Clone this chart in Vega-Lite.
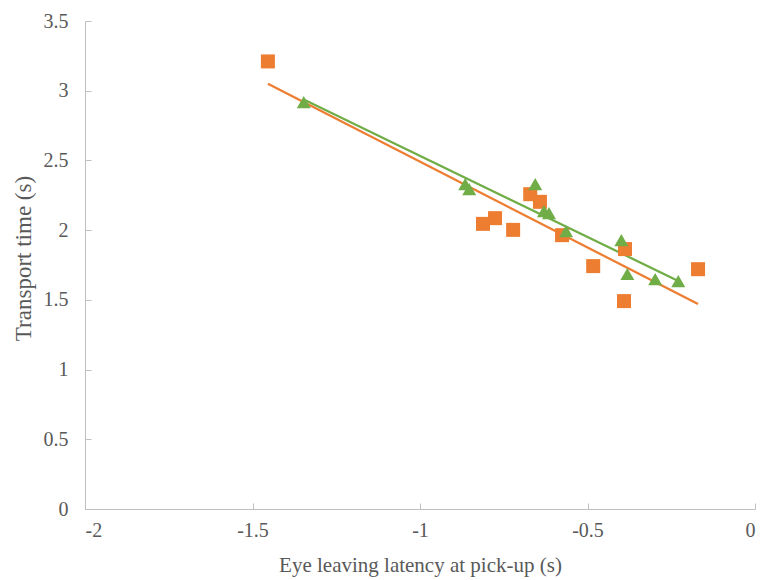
{
  "$schema": "https://vega.github.io/schema/vega-lite/v6.json",
  "width": 670,
  "height": 488,
  "autosize": {"type": "none"},
  "padding": {"left": 85, "top": 21, "right": 6, "bottom": 71},
  "background": "white",
  "config": {
    "view": {"stroke": null},
    "style": {
      "guide-label": {"font": "Liberation Serif", "fontSize": 20, "fill": "#595959"},
      "guide-title": {"font": "Liberation Serif", "fontSize": 21, "fill": "#595959", "fontWeight": "normal"}
    }
  },
  "data": {
    "values": [
      {"x": -1.454, "y": 3.21, "series": "A"},
      {"x": -0.812, "y": 2.045, "series": "A"},
      {"x": -0.776, "y": 2.086, "series": "A"},
      {"x": -0.722, "y": 2.002, "series": "A"},
      {"x": -0.671, "y": 2.258, "series": "A"},
      {"x": -0.642, "y": 2.203, "series": "A"},
      {"x": -0.576, "y": 1.964, "series": "A"},
      {"x": -0.483, "y": 1.742, "series": "A"},
      {"x": -0.388, "y": 1.864, "series": "A"},
      {"x": -0.391, "y": 1.491, "series": "A"},
      {"x": -0.170, "y": 1.72, "series": "A"},
      {"x": -1.347, "y": 2.918, "series": "B"},
      {"x": -0.865, "y": 2.33, "series": "B"},
      {"x": -0.853, "y": 2.294, "series": "B"},
      {"x": -0.656, "y": 2.33, "series": "B"},
      {"x": -0.630, "y": 2.136, "series": "B"},
      {"x": -0.615, "y": 2.122, "series": "B"},
      {"x": -0.564, "y": 1.993, "series": "B"},
      {"x": -0.399, "y": 1.928, "series": "B"},
      {"x": -0.381, "y": 1.685, "series": "B"},
      {"x": -0.298, "y": 1.649, "series": "B"},
      {"x": -0.229, "y": 1.634, "series": "B"}
    ]
  },
  "encoding": {
    "x": {
      "field": "x", "type": "quantitative",
      "scale": {"domain": [-2, 0], "nice": false, "zero": false},
      "axis": {
        "values": [-2, -1.5, -1, -0.5, 0], "labelExpr": "'' + datum.value",
        "grid": false, "domainColor": "#bfbfbf", "tickColor": "#bfbfbf", "tickSize": -6,
        "labelFont": "Liberation Serif", "labelFontSize": 20, "labelColor": "#595959", "labelPadding": 17,
        "title": "Eye leaving latency at pick-up (s)",
        "titleFont": "Liberation Serif", "titleFontSize": 21, "titleFontWeight": "normal", "titleColor": "#595959", "titlePadding": 14
      }
    },
    "y": {
      "field": "y", "type": "quantitative",
      "scale": {"domain": [0, 3.5], "nice": false},
      "axis": {
        "values": [0, 0.5, 1, 1.5, 2, 2.5, 3, 3.5], "labelExpr": "'' + datum.value",
        "grid": false, "domainColor": "#bfbfbf", "tickColor": "#bfbfbf", "tickSize": -6,
        "labelFont": "Liberation Serif", "labelFontSize": 20, "labelColor": "#595959", "labelPadding": 23,
        "title": "Transport time (s)",
        "titleFont": "Liberation Serif", "titleFontSize": 23, "titleFontWeight": "normal", "titleColor": "#595959", "titlePadding": 8,
        "titleY": 237
      }
    },
    "color": {
      "field": "series", "type": "nominal",
      "scale": {"domain": ["A", "B"], "range": ["#ED7D31", "#70AD47"]},
      "legend": null
    }
  },
  "layer": [
    {
      "transform": [{"filter": "datum.series === 'A'"}, {"regression": "y", "on": "x"}],
      "mark": {"type": "line", "strokeWidth": 2.25, "color": "#ED7D31"},
      "encoding": {"color": {"value": "#ED7D31"}}
    },
    {
      "transform": [{"filter": "datum.series === 'B'"}, {"regression": "y", "on": "x"}],
      "mark": {"type": "line", "strokeWidth": 2.25, "color": "#70AD47"},
      "encoding": {"color": {"value": "#70AD47"}}
    },
    {
      "mark": {"type": "point", "filled": true, "opacity": 1, "size": 196},
      "encoding": {
        "shape": {
          "field": "series", "type": "nominal",
          "scale": {"domain": ["A", "B"], "range": ["square", "triangle-up"]},
          "legend": null
        }
      }
    }
  ]
}
